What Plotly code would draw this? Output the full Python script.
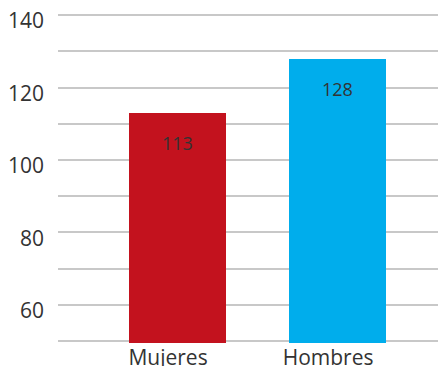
import plotly.graph_objects as go

categories = ["Mujeres", "Hombres"]
values = [113, 128]
colors = ["#c3121e", "#00adec"]
ytick_vals = [60, 80, 100, 120, 140]

fig = go.Figure()
fig.add_trace(go.Bar(
    x=list(range(len(categories))), y=values,
    marker=dict(color=colors, line=dict(width=0)),
    width=0.606, showlegend=False, hoverinfo="skip",
))
for i, v in enumerate(values):
    fig.add_annotation(x=i, y=v, text=str(v), showarrow=False,
                       yanchor="top", yshift=-16,
                       font=dict(family="Open Sans", size=18, color="#333333"))

fig.update_layout(
    width=438, height=366,
    margin=dict(l=58, r=0, t=13.9, b=22.7, pad=0, autoexpand=False),
    paper_bgcolor="white", plot_bgcolor="white",
    font=dict(family="Open Sans", size=20, color="#333333"),
    xaxis=dict(range=[-0.744, 1.631], tickmode="array",
               tickvals=list(range(len(categories))), ticktext=categories,
               showgrid=False, zeroline=False, showline=False, ticks="",
               ticklabelshift=-9, ticklabelstandoff=0, automargin=False,
               tickfont=dict(size=21)),
    yaxis=dict(range=[49.5, 140.3], tickmode="array",
               tickvals=list(range(50, 141, 10)),
               ticktext=[str(t) if t in ytick_vals else "" for t in range(50, 141, 10)],
               showgrid=True, gridcolor="#c8c8c8", gridwidth=1.5,
               zeroline=False, showline=False, ticks="", automargin=False,
               ticklabelstandoff=13, ticklabelshift=6,
               tickfont=dict(size=21)),
    bargap=0,
)
fig.write_html("out.html")
